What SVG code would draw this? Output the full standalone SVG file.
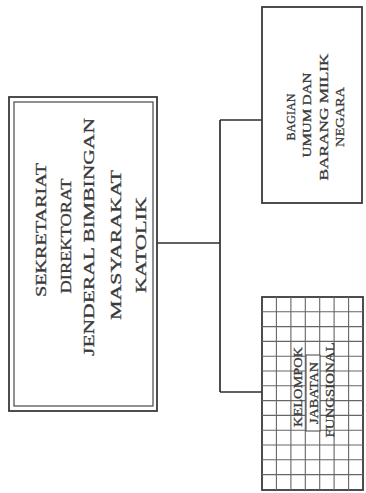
<svg xmlns="http://www.w3.org/2000/svg" width="366" height="493" viewBox="0 0 366 493">
<style>
.box{fill:#fff;stroke:#3a3a3a;stroke-width:1.8}
.inner{fill:none;stroke:#555;stroke-width:1.3}
.conn{fill:none;stroke:#2e2e2e;stroke-width:1.7}
.grid{stroke:#666;stroke-width:1.1}
.t{font-family:"Liberation Serif","DejaVu Serif",serif;fill:#3a3a3a;stroke:#3a3a3a;stroke-width:0.3;text-anchor:middle}
.big{font-size:15.5px}
.sm{font-size:12px}
</style>
<rect width="366" height="493" fill="#fff"/>
<g id="connectors">
<path class="conn" d="M157 243 H220 M220 120 V392 M220 120 H262 M220 392 H262"/>
</g>
<g id="main">
<rect class="box" x="9" y="97" width="148" height="314"/>
<rect class="inner" x="14" y="102" width="139" height="304"/>
<text class="t big" transform="translate(45.5,230) rotate(-90)" textLength="134" lengthAdjust="spacingAndGlyphs">SEKRETARIAT</text>
<text class="t big" transform="translate(70.5,236) rotate(-90)" textLength="115" lengthAdjust="spacingAndGlyphs">DIREKTORAT</text>
<text class="t big" transform="translate(94,237) rotate(-90)" textLength="238" lengthAdjust="spacingAndGlyphs">JENDERAL BIMBINGAN</text>
<text class="t big" transform="translate(120.5,245) rotate(-90)" textLength="150" lengthAdjust="spacingAndGlyphs">MASYARAKAT</text>
<text class="t big" transform="translate(145.5,245) rotate(-90)" textLength="96" lengthAdjust="spacingAndGlyphs">KATOLIK</text>
</g>
<g id="bagian">
<rect class="box" x="262" y="7" width="100" height="196"/>
<text class="t sm" transform="translate(294.5,117) rotate(-90)" textLength="47" lengthAdjust="spacingAndGlyphs">BAGIAN</text>
<text class="t sm" transform="translate(311,115) rotate(-90)" textLength="85" lengthAdjust="spacingAndGlyphs">UMUM DAN</text>
<text class="t sm" transform="translate(327.5,117) rotate(-90)" textLength="127" lengthAdjust="spacingAndGlyphs">BARANG MILIK</text>
<text class="t sm" transform="translate(344,117) rotate(-90)" textLength="60" lengthAdjust="spacingAndGlyphs">NEGARA</text>
</g>
<g id="kelompok">
<rect class="box" x="262" y="297" width="101" height="193"/>
<g class="grid">
<path d="M276.4 297V490M290.9 297V490M305.3 297V490M319.7 297V490M334.1 297V490M348.6 297V490"/>
<path d="M262 311.8H363M262 326.6H363M262 341.4H363M262 356.2H363M262 371H363M262 385.8H363M262 400.6H363M262 415.4H363M262 430.2H363M262 445H363M262 459.8H363M262 474.6H363"/>
</g>
<rect x="306" y="355" width="14" height="76" fill="#fff" stroke="#555" stroke-width="1.1"/>
<text class="t sm" transform="translate(301.5,387) rotate(-90)" textLength="80" lengthAdjust="spacingAndGlyphs">KELOMPOK</text>
<text class="t sm" transform="translate(317.5,393) rotate(-90)" textLength="62" lengthAdjust="spacingAndGlyphs">JABATAN</text>
<text class="t sm" transform="translate(333.5,390) rotate(-90)" textLength="95" lengthAdjust="spacingAndGlyphs">FUNGSIONAL</text>
</g>
</svg>
